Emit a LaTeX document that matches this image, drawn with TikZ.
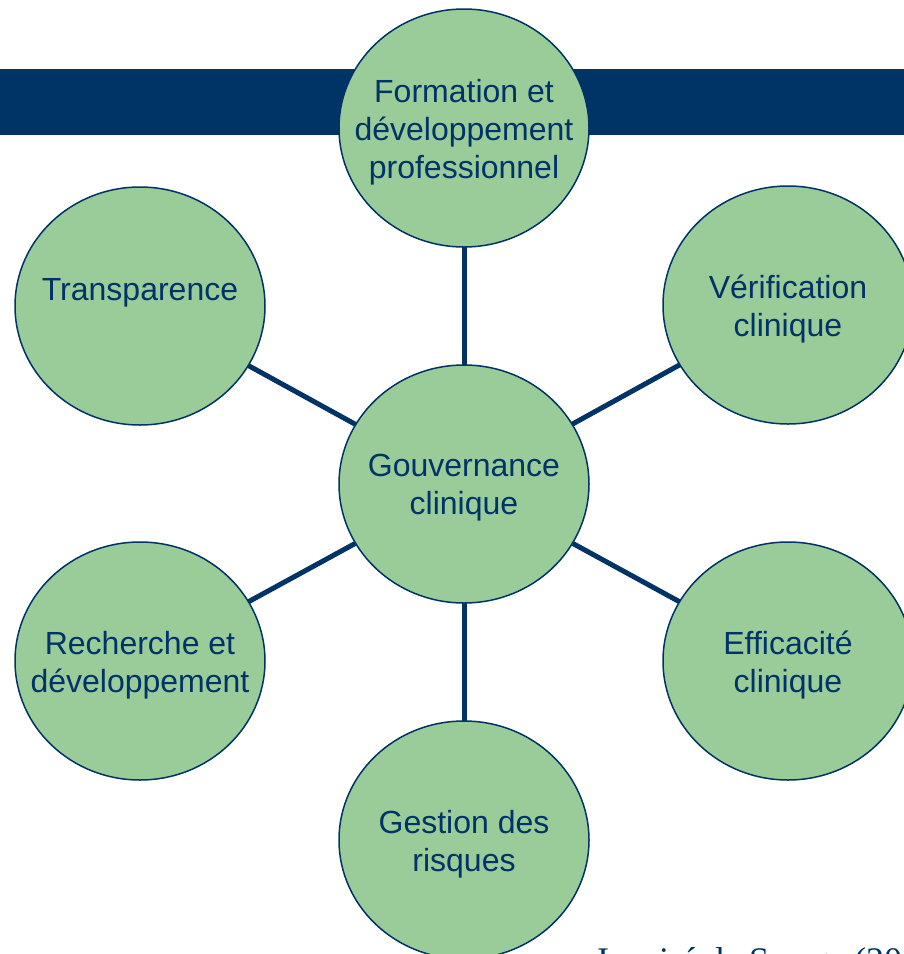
\documentclass[tikz,border=0pt]{standalone}
\usepackage{fontspec}
\setmainfont{Liberation Sans}
\newfontfamily\serifcite{Liberation Serif}
\usetikzlibrary{shapes.geometric,backgrounds}
\definecolor{navy}{RGB}{0,51,102}
\definecolor{leaf}{RGB}{153,204,153}
\tikzset{
  bubble/.style={ellipse, draw=navy, line width=1.5pt, fill=leaf, inner sep=0pt,
    minimum width=250pt, minimum height=238pt},
  bubbletext/.style={text=navy, align=center, inner sep=0pt, yshift=-4pt,
    font=\fontsize{32}{38}\selectfont},
  spoke/.style={draw=navy, line width=5pt}
}
\begin{document}
\begin{tikzpicture}[x=1pt,y=-1pt]
\useasboundingbox (0,0) rectangle (904,954);
\fill[navy] (0,69) rectangle (904,135);
\node[bubble, label={[bubbletext]center:Gouvernance\\clinique}] (c) at (464,484) {};
\node[bubble, label={[bubbletext]center:Formation et\\développement\\professionnel}] (t) at (464,128) {};
\node[bubble, label={[bubbletext, yshift=17pt]center:Transparence}] (tl) at (140,306) {};
\node[bubble, label={[bubbletext]center:Vérification\\clinique}] (tr) at (788,305) {};
\node[bubble, label={[bubbletext]center:Recherche et\\développement}] (bl) at (140,661) {};
\node[bubble, label={[bubbletext]center:Efficacité\\clinique}] (br) at (788,661) {};
\node[bubble, label={[bubbletext]center:Gestion des\\risques}] (b) at (464,840) {};
\begin{scope}[on background layer]
\foreach \n in {t,tl,tr,bl,br,b}{\draw[spoke] (c.center) -- (\n.center);}
\end{scope}
\node[anchor=base west, inner sep=0pt, text=navy, font=\serifcite\fontsize{36}{40}\selectfont] (cite) at (597,972) {Inspiré de Swage (200};
\end{tikzpicture}
\end{document}
